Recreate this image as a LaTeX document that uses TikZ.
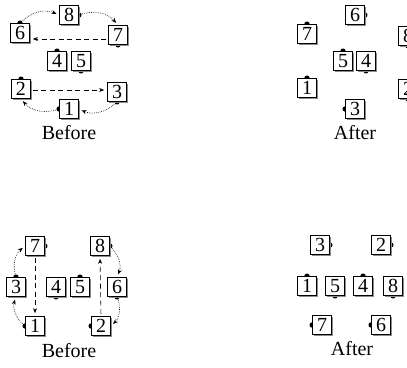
\documentclass[tikz,border=0pt]{standalone}
\usepackage{fontspec}
\setmainfont{Liberation Serif}
\usetikzlibrary{arrows.meta, shadows, backgrounds}

\tikzset{
    dancer/.style={draw, fill=white, line width=0.7pt, minimum size=19pt, inner sep=0pt,
        font=\fontsize{20}{20}\selectfont,
        drop shadow={shadow xshift=1.2pt, shadow yshift=-1.2pt, fill=black!45, opacity=1}},
    caption/.style={font=\fontsize{20}{20}\selectfont},
    curl/.style={line width=0.6pt, dash pattern=on 0.7pt off 1.1pt, bend left=35,
        -{Stealth[length=5pt, width=4pt]}, shorten >=3pt},
    walk/.style={line width=0.6pt, dash pattern=on 5pt off 3.5pt,
        -{Stealth[length=5pt, width=4pt]}, shorten >=3pt, shorten <=2pt}
}

\begin{document}
\begin{tikzpicture}[x=1pt, y=-1pt]
    \useasboundingbox (0,0) rectangle (407,367);
    \clip (0,0) rectangle (407,367);

    % Draw nodes (top, before)
    \node[dancer] (tb8) at (69,15) {8};
    \node[dancer] (tb6) at (20,33) {6};
    \node[dancer] (tb7) at (118,35) {7};
    \node[dancer] (tb4) at (57,61) {4};
    \node[dancer] (tb5) at (81,61) {5};
    \node[dancer] (tb2) at (21,89) {2};
    \node[dancer] (tb3) at (117,92) {3};
    \node[dancer] (tb1) at (69,109) {1};
    \node[caption] (tbl) at (69,133) {Before};

    % Draw nodes (top, after)
    \node[dancer] (ta6) at (355,15) {6};
    \node[dancer] (ta7) at (307,34) {7};
    \node[dancer] (ta8) at (408,36) {8};
    \node[dancer] (ta5) at (343,61) {5};
    \node[dancer] (ta4) at (366,61) {4};
    \node[dancer] (ta1) at (307,88) {1};
    \node[dancer] (ta2) at (408,89) {2};
    \node[dancer] (ta3) at (355,109) {3};
    \node[caption] (tal) at (355,133) {After};

    % Draw nodes (bottom, before)
    \node[dancer] (bb7) at (35,246) {7};
    \node[dancer] (bb8) at (100,246) {8};
    \node[dancer] (bb3) at (16,287) {3};
    \node[dancer] (bb4) at (56,287) {4};
    \node[dancer] (bb5) at (80,287) {5};
    \node[dancer] (bb6) at (117,287) {6};
    \node[dancer] (bb1) at (35,326) {1};
    \node[dancer] (bb2) at (101,326) {2};
    \node[caption] (bbl) at (69,351) {Before};

    % Draw nodes (bottom, after)
    \node[dancer] (ba3) at (320,245) {3};
    \node[dancer] (ba2) at (381,245) {2};
    \node[dancer] (ba1) at (307,286) {1};
    \node[dancer] (ba5) at (335,286) {5};
    \node[dancer] (ba4) at (363,286) {4};
    \node[dancer] (ba8) at (393,286) {8};
    \node[dancer] (ba7) at (322,325) {7};
    \node[dancer] (ba6) at (381,325) {6};
    \node[caption] (bal) at (352,349) {After};

    % Facing marks
    \begin{pgfonlayer}{background}
        \foreach \n in {tb6, tb4, tb2, ta7, ta5, ta1, bb3, bb5, ba1, ba4}
            \fill (\n.north) circle[radius=2.7];
        \foreach \n in {tb7, tb5, tb3, ta8, ta4, ta2, bb4, bb6, ba5, ba8}
            \fill (\n.south) circle[radius=2.7];
        \foreach \n in {tb8, ta6, bb7, bb8, ba3, ba2}
            \fill (\n.east) circle[radius=2.7];
        \foreach \n in {tb1, ta3, bb1, bb2, ba7, ba6}
            \fill (\n.west) circle[radius=2.7];
    \end{pgfonlayer}

    % Draw connections (top)
    \draw[curl] (tb6.north) to (tb8.west);
    \draw[curl] (tb8.east) to (tb7.north);
    \draw[curl] (tb3.south) to (tb1.east);
    \draw[curl] (tb1.west) to (tb2.south);
    \draw[walk] ([yshift=-4pt]tb7.west) -- ([yshift=-4pt]tb7.west -| tb6.east);
    \draw[walk] ([yshift=-1pt]tb2.east) -- ([yshift=-1pt]tb2.east -| tb3.west);

    % Draw connections (bottom)
    \draw[curl] (bb3.north) to (bb7.west);
    \draw[curl] (bb1.west) to (bb3.south);
    \draw[curl] (bb8.east) to (bb6.north);
    \draw[curl] (bb6.south) to (bb2.east);
    \draw[walk] (bb7.south) -- (bb1.north);
    \draw[walk] (bb2.north) -- (bb8.south);
\end{tikzpicture}
\end{document}
